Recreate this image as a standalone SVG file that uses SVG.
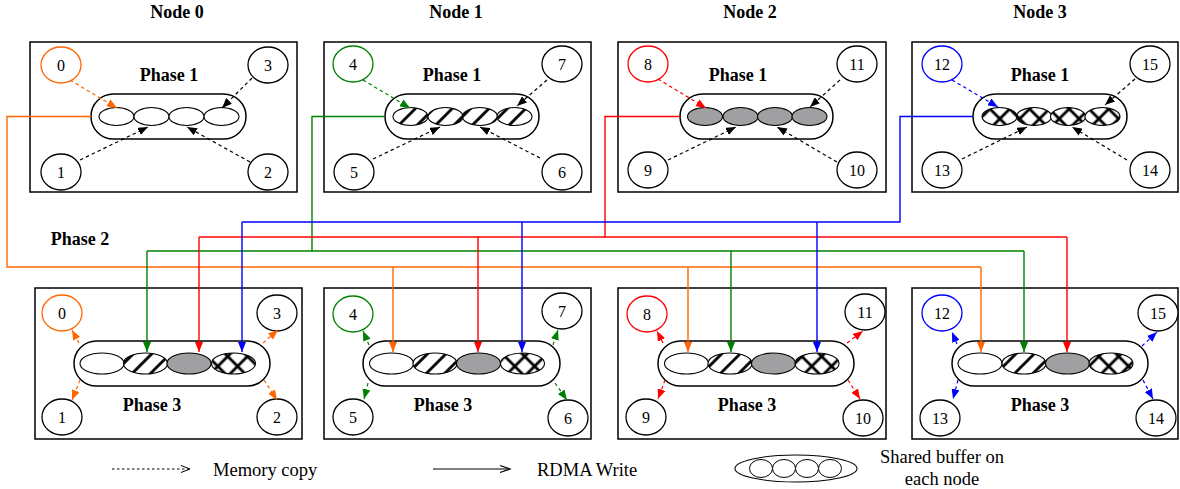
<svg xmlns="http://www.w3.org/2000/svg" width="1180" height="489" viewBox="0 0 1180 489">
<style>
text{font-family:"Liberation Serif","Times New Roman",serif;fill:#000}
.title{font-size:18px;font-weight:bold;text-anchor:middle}
.num{font-size:16px;text-anchor:middle}
.leg{font-size:18.5px}
.box{fill:#fff;stroke:#000;stroke-width:1.5}
.pill{fill:#fff;stroke:#000;stroke-width:1.5}
.cell{stroke:#000;stroke-width:1.1}
.w{fill:#fff}
.h{fill:url(#hatch)}
.g{fill:#a0a0a2}
.x{fill:url(#cross)}
.c{fill:#fff;stroke:#000;stroke-width:1.3}
.dash{fill:none;stroke-width:1.2;stroke-dasharray:3.5,3}
.rdma{fill:none;stroke-width:1.4}
</style>
<defs>
<pattern id="hatch" patternUnits="userSpaceOnUse" width="13" height="13" patternTransform="rotate(45)">
<rect width="13" height="13" fill="#fff"/>
<line x1="6.5" y1="-1" x2="6.5" y2="14" stroke="#000" stroke-width="2.8"/>
</pattern>
<pattern id="cross" patternUnits="userSpaceOnUse" width="14" height="14" patternTransform="rotate(45)">
<rect width="14" height="14" fill="#fff"/>
<line x1="7" y1="-1" x2="7" y2="15" stroke="#000" stroke-width="2.8"/>
<line x1="-1" y1="7" x2="15" y2="7" stroke="#000" stroke-width="2.8"/>
</pattern>
<marker id="mk" markerUnits="userSpaceOnUse" markerWidth="10" markerHeight="8" refX="10" refY="4" orient="auto"><path d="M0,0L10,4L0,8z" fill="#000"/></marker>
<marker id="mo" markerUnits="userSpaceOnUse" markerWidth="10" markerHeight="8" refX="10" refY="4" orient="auto"><path d="M0,0L10,4L0,8z" fill="#ff6600"/></marker>
<marker id="mg" markerUnits="userSpaceOnUse" markerWidth="10" markerHeight="8" refX="10" refY="4" orient="auto"><path d="M0,0L10,4L0,8z" fill="#008000"/></marker>
<marker id="mr" markerUnits="userSpaceOnUse" markerWidth="10" markerHeight="8" refX="10" refY="4" orient="auto"><path d="M0,0L10,4L0,8z" fill="#ff0000"/></marker>
<marker id="mb" markerUnits="userSpaceOnUse" markerWidth="10" markerHeight="8" refX="10" refY="4" orient="auto"><path d="M0,0L10,4L0,8z" fill="#0000ff"/></marker>
</defs>
<rect width="1180" height="489" fill="#fff"/>

<!-- titles -->
<text class="title" x="177" y="18">Node 0</text>
<text class="title" x="456" y="18">Node 1</text>
<text class="title" x="750" y="18">Node 2</text>
<text class="title" x="1040" y="18">Node 3</text>
<text class="title" x="80" y="245">Phase 2</text>

<!-- Phase 1 nodes -->
<g id="node0-phase1">
<rect class="box" x="30" y="42" width="267" height="150"/>
<text class="title" x="169" y="81">Phase 1</text>
<rect class="pill" x="91" y="94" width="155" height="45" rx="22.5"/>
<ellipse class="cell w" cx="116.5" cy="116.5" rx="17.5" ry="9"/><ellipse class="cell w" cx="151.5" cy="116.5" rx="17.5" ry="9"/><ellipse class="cell w" cx="186.5" cy="116.5" rx="17.5" ry="9"/><ellipse class="cell w" cx="221.5" cy="116.5" rx="17.5" ry="9"/>
<g id="p1-c0"><ellipse class="c" style="stroke:#ff6600" cx="61" cy="65" rx="20" ry="18"/><text class="num" x="61" y="70.5">0</text></g>
<g id="p1-c3"><ellipse class="c" cx="268" cy="65" rx="20" ry="18"/><text class="num" x="268" y="70.5">3</text></g>
<g id="p1-c1"><ellipse class="c" cx="61" cy="172" rx="20" ry="18"/><text class="num" x="61" y="177.5">1</text></g>
<g id="p1-c2"><ellipse class="c" cx="268" cy="172" rx="20" ry="18"/><text class="num" x="268" y="177.5">2</text></g>
</g>
<g id="node1-phase1">
<rect class="box" x="324" y="42" width="267" height="150"/>
<text class="title" x="452" y="81">Phase 1</text>
<rect class="pill" x="385" y="94" width="154" height="45" rx="22.5"/>
<ellipse class="cell h" cx="410.5" cy="116.5" rx="17.5" ry="9"/><ellipse class="cell h" cx="445.5" cy="116.5" rx="17.5" ry="9"/><ellipse class="cell h" cx="480" cy="116.5" rx="17.5" ry="9"/><ellipse class="cell h" cx="514.5" cy="116.5" rx="17.5" ry="9"/>
<g id="p1-c4"><ellipse class="c" style="stroke:#008000" cx="353" cy="64" rx="20" ry="18"/><text class="num" x="353" y="69.5">4</text></g>
<g id="p1-c7"><ellipse class="c" cx="562" cy="64" rx="20" ry="18"/><text class="num" x="562" y="69.5">7</text></g>
<g id="p1-c5"><ellipse class="c" cx="354" cy="172" rx="20" ry="18"/><text class="num" x="354" y="177.5">5</text></g>
<g id="p1-c6"><ellipse class="c" cx="562" cy="172" rx="20" ry="18"/><text class="num" x="562" y="177.5">6</text></g>
</g>
<g id="node2-phase1">
<rect class="box" x="618" y="42" width="268" height="150"/>
<text class="title" x="738" y="81">Phase 1</text>
<rect class="pill" x="680" y="94" width="153" height="45" rx="22.5"/>
<ellipse class="cell g" cx="705" cy="116.5" rx="17.5" ry="9"/><ellipse class="cell g" cx="740.5" cy="116.5" rx="17.5" ry="9"/><ellipse class="cell g" cx="775" cy="116.5" rx="17.5" ry="9"/><ellipse class="cell g" cx="809.5" cy="116.5" rx="17.5" ry="9"/>
<g id="p1-c8"><ellipse class="c" style="stroke:#ff0000" cx="648" cy="64" rx="20" ry="18"/><text class="num" x="648" y="69.5">8</text></g>
<g id="p1-c11"><ellipse class="c" cx="857" cy="64" rx="20" ry="18"/><text class="num" x="857" y="69.5">11</text></g>
<g id="p1-c9"><ellipse class="c" cx="648" cy="170" rx="20" ry="18"/><text class="num" x="648" y="175.5">9</text></g>
<g id="p1-c10"><ellipse class="c" cx="857" cy="170" rx="20" ry="18"/><text class="num" x="857" y="175.5">10</text></g>
</g>
<g id="node3-phase1">
<rect class="box" x="912" y="42" width="266" height="150"/>
<text class="title" x="1040" y="81">Phase 1</text>
<rect class="pill" x="973" y="94" width="154" height="45" rx="22.5"/>
<ellipse class="cell x" cx="999.5" cy="116.5" rx="17.5" ry="9"/><ellipse class="cell x" cx="1034" cy="116.5" rx="17.5" ry="9"/><ellipse class="cell x" cx="1068" cy="116.5" rx="17.5" ry="9"/><ellipse class="cell x" cx="1102.5" cy="116.5" rx="17.5" ry="9"/>
<g id="p1-c12"><ellipse class="c" style="stroke:#0000ff" cx="942" cy="64" rx="20" ry="18"/><text class="num" x="942" y="69.5">12</text></g>
<g id="p1-c15"><ellipse class="c" cx="1150" cy="64" rx="20" ry="18"/><text class="num" x="1150" y="69.5">15</text></g>
<g id="p1-c13"><ellipse class="c" cx="942" cy="170" rx="20" ry="18"/><text class="num" x="942" y="175.5">13</text></g>
<g id="p1-c14"><ellipse class="c" cx="1150" cy="170" rx="20" ry="18"/><text class="num" x="1150" y="175.5">14</text></g>
</g>

<!-- Phase 3 nodes -->
<g id="node0-phase3">
<rect class="box" x="35" y="288" width="267" height="151"/>
<text class="title" x="152" y="411">Phase 3</text>
<rect class="pill" x="74" y="341" width="196" height="45" rx="22.5"/>
<ellipse class="cell w" cx="102" cy="363.5" rx="22" ry="10.5"/><ellipse class="cell h" cx="145.5" cy="363.5" rx="22" ry="10.5"/><ellipse class="cell g" cx="189" cy="363.5" rx="22" ry="10.5"/><ellipse class="cell x" cx="233.5" cy="363.5" rx="22" ry="10.5"/>
<g id="p3-c0"><ellipse class="c" style="stroke:#ff6600" cx="62" cy="313" rx="20" ry="18"/><text class="num" x="62" y="318.5">0</text></g>
<g id="p3-c3"><ellipse class="c" cx="277" cy="313" rx="20" ry="18"/><text class="num" x="277" y="318.5">3</text></g>
<g id="p3-c1"><ellipse class="c" cx="62" cy="417" rx="20" ry="18"/><text class="num" x="62" y="422.5">1</text></g>
<g id="p3-c2"><ellipse class="c" cx="277" cy="417" rx="20" ry="18"/><text class="num" x="277" y="422.5">2</text></g>
</g>
<g id="node1-phase3">
<rect class="box" x="324" y="288" width="267" height="151"/>
<text class="title" x="443" y="411">Phase 3</text>
<rect class="pill" x="363" y="341" width="197" height="45" rx="22.5"/>
<ellipse class="cell w" cx="391.5" cy="363.5" rx="22" ry="10.5"/><ellipse class="cell h" cx="435" cy="363.5" rx="22" ry="10.5"/><ellipse class="cell g" cx="478.5" cy="363.5" rx="22" ry="10.5"/><ellipse class="cell x" cx="522.5" cy="363.5" rx="22" ry="10.5"/>
<g id="p3-c4"><ellipse class="c" style="stroke:#008000" cx="353" cy="314" rx="20" ry="18"/><text class="num" x="353" y="319.5">4</text></g>
<g id="p3-c7"><ellipse class="c" cx="562" cy="311" rx="20" ry="18"/><text class="num" x="562" y="316.5">7</text></g>
<g id="p3-c5"><ellipse class="c" cx="353" cy="417" rx="20" ry="18"/><text class="num" x="353" y="422.5">5</text></g>
<g id="p3-c6"><ellipse class="c" cx="568" cy="418" rx="20" ry="18"/><text class="num" x="568" y="423.5">6</text></g>
</g>
<g id="node2-phase3">
<rect class="box" x="618" y="288" width="268" height="151"/>
<text class="title" x="747" y="411">Phase 3</text>
<rect class="pill" x="658" y="341" width="196" height="45" rx="22.5"/>
<ellipse class="cell w" cx="686.5" cy="363.5" rx="22" ry="10.5"/><ellipse class="cell h" cx="730" cy="363.5" rx="22" ry="10.5"/><ellipse class="cell g" cx="773.5" cy="363.5" rx="22" ry="10.5"/><ellipse class="cell x" cx="817" cy="363.5" rx="22" ry="10.5"/>
<g id="p3-c8"><ellipse class="c" style="stroke:#ff0000" cx="647" cy="314" rx="20" ry="18"/><text class="num" x="647" y="319.5">8</text></g>
<g id="p3-c11"><ellipse class="c" cx="865" cy="312" rx="20" ry="18"/><text class="num" x="865" y="317.5">11</text></g>
<g id="p3-c9"><ellipse class="c" cx="646" cy="417" rx="20" ry="18"/><text class="num" x="646" y="422.5">9</text></g>
<g id="p3-c10"><ellipse class="c" cx="863" cy="418" rx="20" ry="18"/><text class="num" x="863" y="423.5">10</text></g>
</g>
<g id="node3-phase3">
<rect class="box" x="912" y="288" width="266" height="151"/>
<text class="title" x="1040" y="411">Phase 3</text>
<rect class="pill" x="952" y="341" width="196" height="45" rx="22.5"/>
<ellipse class="cell w" cx="980" cy="363.5" rx="22" ry="10.5"/><ellipse class="cell h" cx="1024" cy="363.5" rx="22" ry="10.5"/><ellipse class="cell g" cx="1067.5" cy="363.5" rx="22" ry="10.5"/><ellipse class="cell x" cx="1111" cy="363.5" rx="22" ry="10.5"/>
<g id="p3-c12"><ellipse class="c" style="stroke:#0000ff" cx="942" cy="313" rx="20" ry="18"/><text class="num" x="942" y="318.5">12</text></g>
<g id="p3-c15"><ellipse class="c" cx="1158" cy="313" rx="20" ry="18"/><text class="num" x="1158" y="318.5">15</text></g>
<g id="p3-c13"><ellipse class="c" cx="940" cy="418" rx="20" ry="18"/><text class="num" x="940" y="423.5">13</text></g>
<g id="p3-c14"><ellipse class="c" cx="1156" cy="418" rx="20" ry="18"/><text class="num" x="1156" y="423.5">14</text></g>
</g>

<!-- connectors -->
<g id="connectors">
<path class="dash" stroke="#ff6600" marker-end="url(#mo)" d="M70,80L117,108"/>
<path class="dash" stroke="#000" marker-end="url(#mk)" d="M252,78L222,108"/>
<path class="dash" stroke="#000" marker-end="url(#mk)" d="M80,160L148,127"/>
<path class="dash" stroke="#000" marker-end="url(#mk)" d="M250,162L187,127"/>

<path class="dash" stroke="#008000" marker-end="url(#mg)" d="M363,80L410,108"/>
<path class="dash" stroke="#000" marker-end="url(#mk)" d="M547,80L517,106"/>
<path class="dash" stroke="#000" marker-end="url(#mk)" d="M373,159L440,127"/>
<path class="dash" stroke="#000" marker-end="url(#mk)" d="M540,158L480,127"/>

<path class="dash" stroke="#ff0000" marker-end="url(#mr)" d="M658,79L706,108"/>
<path class="dash" stroke="#000" marker-end="url(#mk)" d="M840,80L810,107"/>
<path class="dash" stroke="#000" marker-end="url(#mk)" d="M668,160L736,127"/>
<path class="dash" stroke="#000" marker-end="url(#mk)" d="M837,162L777,127"/>

<path class="dash" stroke="#0000ff" marker-end="url(#mb)" d="M952,80L998,107"/>
<path class="dash" stroke="#000" marker-end="url(#mk)" d="M1135,79L1105,105"/>
<path class="dash" stroke="#000" marker-end="url(#mk)" d="M962,159L1027,127"/>
<path class="dash" stroke="#000" marker-end="url(#mk)" d="M1127,160L1072,127"/>

<path class="rdma" stroke="#ff6600" d="M91,116.5H7V267H981"/>
<path class="rdma" stroke="#ff6600" marker-end="url(#mo)" d="M393,267V352"/>
<path class="rdma" stroke="#ff6600" marker-end="url(#mo)" d="M688,267V352"/>
<path class="rdma" stroke="#ff6600" marker-end="url(#mo)" d="M981,267V352"/>

<path class="rdma" stroke="#008000" d="M385,116.5H312V251"/>
<path class="rdma" stroke="#008000" d="M147,251H1024"/>
<path class="rdma" stroke="#008000" marker-end="url(#mg)" d="M147,251V352"/>
<path class="rdma" stroke="#008000" marker-end="url(#mg)" d="M731,251V352"/>
<path class="rdma" stroke="#008000" marker-end="url(#mg)" d="M1024,251V352"/>

<path class="rdma" stroke="#ff0000" d="M680,116.5H605V237"/>
<path class="rdma" stroke="#ff0000" d="M199,237H1067"/>
<path class="rdma" stroke="#ff0000" marker-end="url(#mr)" d="M199,237V352"/>
<path class="rdma" stroke="#ff0000" marker-end="url(#mr)" d="M478,237V352"/>
<path class="rdma" stroke="#ff0000" marker-end="url(#mr)" d="M1067,237V352"/>

<path class="rdma" stroke="#0000ff" d="M973,116.5H900V222H242"/>
<path class="rdma" stroke="#0000ff" marker-end="url(#mb)" d="M242,222V352"/>
<path class="rdma" stroke="#0000ff" marker-end="url(#mb)" d="M522,222V352"/>
<path class="rdma" stroke="#0000ff" marker-end="url(#mb)" d="M817,222V352"/>

<path class="dash" stroke="#ff6600" marker-end="url(#mo)" d="M79,343L72,330"/>
<path class="dash" stroke="#ff6600" marker-end="url(#mo)" d="M263,343L278,330"/>
<path class="dash" stroke="#ff6600" marker-end="url(#mo)" d="M80,380L72,400"/>
<path class="dash" stroke="#ff6600" marker-end="url(#mo)" d="M264,380L277,400"/>

<path class="dash" stroke="#008000" marker-end="url(#mg)" d="M369,345L363,331"/>
<path class="dash" stroke="#008000" marker-end="url(#mg)" d="M553,345L558,330"/>
<path class="dash" stroke="#008000" marker-end="url(#mg)" d="M368,383L364,399"/>
<path class="dash" stroke="#008000" marker-end="url(#mg)" d="M555,383L567,400"/>

<path class="dash" stroke="#ff0000" marker-end="url(#mr)" d="M663,343L657,331"/>
<path class="dash" stroke="#ff0000" marker-end="url(#mr)" d="M847,343L863,331"/>
<path class="dash" stroke="#ff0000" marker-end="url(#mr)" d="M665,380L658,399"/>
<path class="dash" stroke="#ff0000" marker-end="url(#mr)" d="M848,380L860,399"/>

<path class="dash" stroke="#0000ff" marker-end="url(#mb)" d="M957,344L952,332"/>
<path class="dash" stroke="#0000ff" marker-end="url(#mb)" d="M1142,346L1157,332"/>
<path class="dash" stroke="#0000ff" marker-end="url(#mb)" d="M958,380L953,399"/>
<path class="dash" stroke="#0000ff" marker-end="url(#mb)" d="M1143,380L1153,399"/>
</g>

<!-- legend -->
<g id="legend">
<path d="M112,469H189" fill="none" stroke="#000" stroke-width="1" stroke-dasharray="2.5,2.5"/>
<path d="M181,465.5L190,469L181,472.5" fill="none" stroke="#000" stroke-width="1"/>
<text class="leg" x="213" y="476">Memory copy</text>
<path d="M433,469H510" fill="none" stroke="#000" stroke-width="1.2"/>
<path d="M500,465.5L510,469L500,472.5" fill="none" stroke="#000" stroke-width="1.2"/>
<text class="leg" x="537" y="476">RDMA Write</text>
<ellipse cx="796" cy="468.5" rx="61" ry="13.5" fill="#fff" stroke="#000" stroke-width="1.1"/>
<ellipse cx="761" cy="468.5" rx="11.5" ry="9" fill="#fff" stroke="#000" stroke-width="1"/>
<ellipse cx="784" cy="468.5" rx="11.5" ry="9" fill="#fff" stroke="#000" stroke-width="1"/>
<ellipse cx="807" cy="468.5" rx="11.5" ry="9" fill="#fff" stroke="#000" stroke-width="1"/>
<ellipse cx="830" cy="468.5" rx="11.5" ry="9" fill="#fff" stroke="#000" stroke-width="1"/>
<text class="leg" x="942" y="463" text-anchor="middle">Shared buffer on</text>
<text class="leg" x="942" y="485" text-anchor="middle">each node</text>
</g>
</svg>
